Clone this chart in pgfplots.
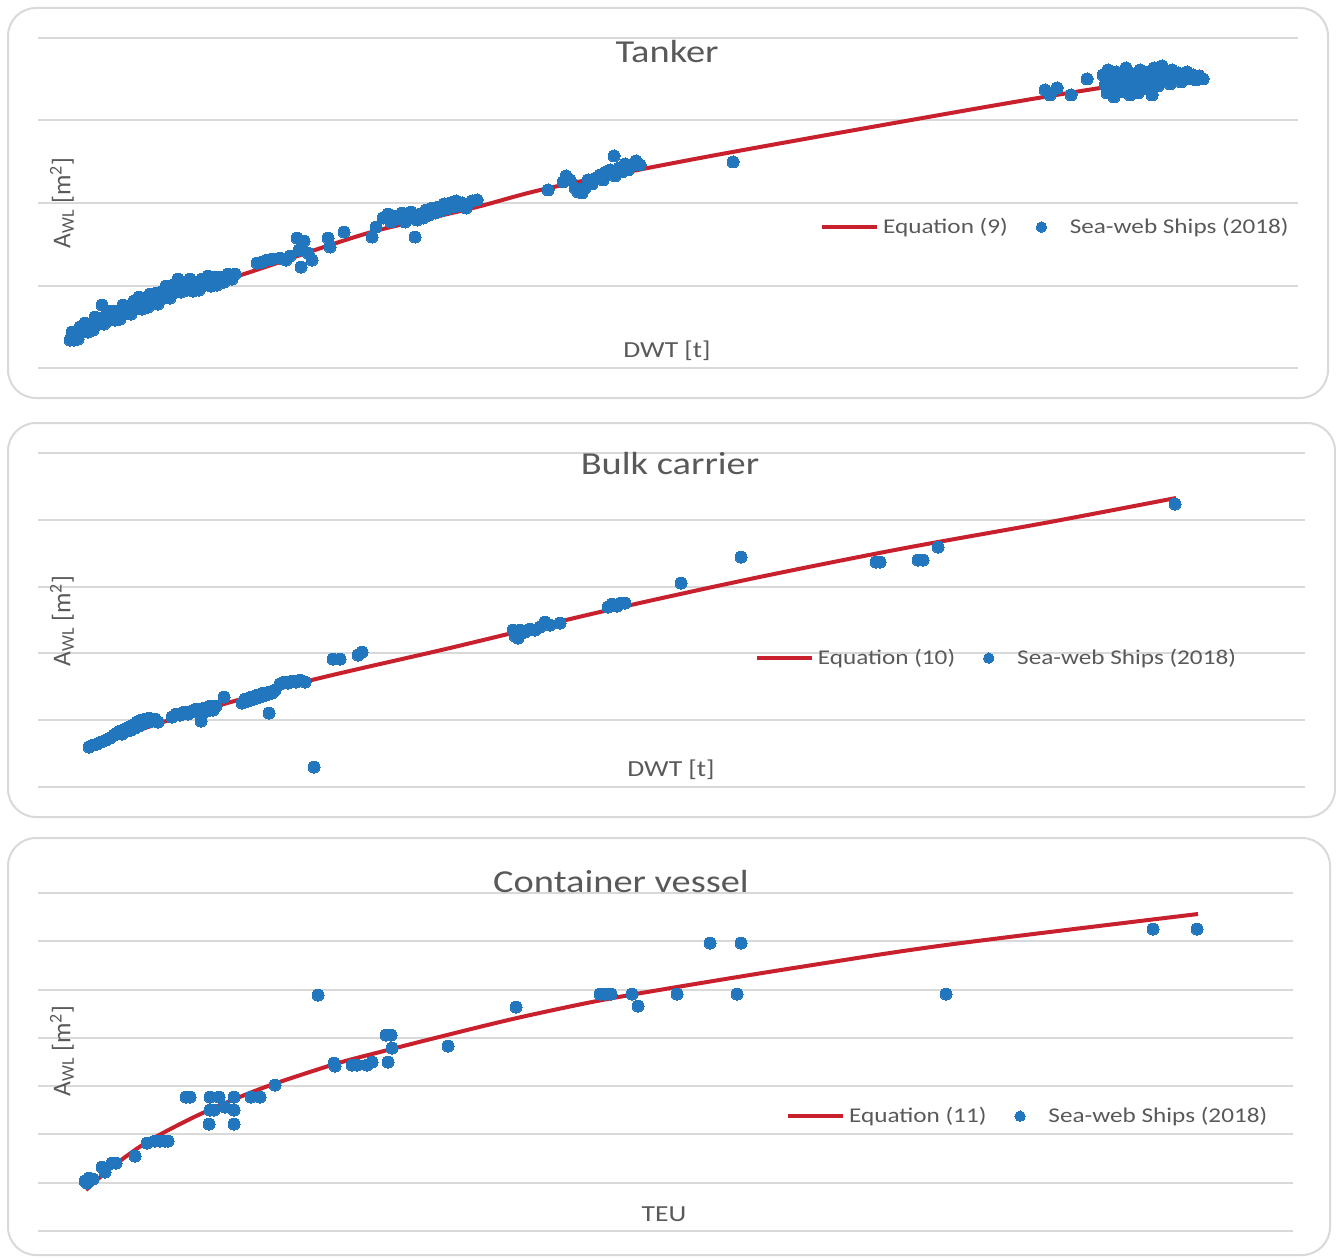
\documentclass[border=0pt]{standalone}
\usepackage{pgfplots}
\pgfplotsset{compat=1.18}
\usepackage{fontspec}
\setmainfont{Carlito}[FakeStretch=1.2]
\newfontfamily\ylfont{Carlito}
\definecolor{sblue}{RGB}{33,118,189}
\definecolor{sred}{RGB}{200,32,44}
\definecolor{txt}{RGB}{89,89,89}
\definecolor{gridc}{RGB}{217,217,217}
\pgfplotsset{
  panel/.style={scale only axis, axis line style={draw=none}, major tick length=0pt,
    xtick=\empty, yticklabels={}, ymajorgrids, grid style={gridc, line width=1pt},
    clip=false, anchor=south west, legend columns=2, legend cell align=left,
    legend style={draw=none, fill=none, inner sep=0pt, anchor=east,
      font=\fontsize{10.5}{12}\selectfont, text=txt,
      /tikz/every even column/.append style={column sep=12pt}}},
  eqline/.style={sred, line width=2pt, no marks, smooth,
    legend image code/.code={\draw[##1] (0pt,0pt) -- (27.5pt,0pt);}},
  ships/.style={only marks, mark=*, mark size=3pt,
    mark options={draw=sblue, fill=sblue, line width=0pt},
    legend image code/.code={\path[draw=none, fill=none] (0pt,-2pt) rectangle (15pt,2pt);
      \draw[##1,mark size=2.6pt] plot coordinates {(2.8pt,0pt)};}}
}
\begin{document}
\begin{tikzpicture}
% frames
\draw[gridc, line width=1pt, rounded corners=14pt] (4pt,-4pt) rectangle (664pt,-199pt);
\draw[gridc, line width=1pt, rounded corners=14pt] (4pt,-211.5pt) rectangle (667.5pt,-408.5pt);
\draw[gridc, line width=1pt, rounded corners=14pt] (4pt,-419pt) rectangle (665pt,-627.5pt);

% ---------------- Tanker
\begin{axis}[panel, at={(19pt,-184pt)}, width=630pt, height=165pt,
  xmin=38, xmax=1298, ymin=0, ymax=330, ytick={0,82.5,165,247.5,330},
  legend style={at={(0.996,0.427)}}]
\addplot[eqline] coordinates {(68,30) (100,46) (134,61) (179,79) (223,89) (241,93) (286,108) (321,120) (379,138) (473,160) (549,180) (700,210) (900,246) (1050,272) (1203,296)};
\addlegendentry{Equation (9)}
\addplot[ships] coordinates {
(70,28) (72,36) (74,28) (76,36) (78,29) (80,41) (83,36) (85,45) (88,36) (90,44) (93,38) (95,51) (98,44) (100,50) (102,63) (104,44) (107,54) (110,48) (112,57) (115,48) (118,57) (120,49) (123,63) (126,55) (128,62) (131,54) (134,67) (136,60) (139,71) (142,59) (145,68) (148,61) (150,74) (153,67) (156,75) (158,64) (161,76) (164,70) (166,82) (170,70) (173,83) (176,76) (178,89) (181,76) (184,85) (187,78) (190,89) (193,77) (196,86) (199,78) (202,89) (205,83) (208,92) (211,82) (214,91) (217,83) (220,91) (224,86) (228,94) (232,89) (235,94)
(257,105) (262,106) (267,108) (272,109) (280,110) (286,108) (290,112) (297,130) (299,118) (301,101) (304,127) (308,115) (312,108) (328,130) (330,121) (344,136)
(372,131) (376,141) (383,150) (388,154) (391,146) (395,152) (399,149) (402,155) (405,146) (408,151) (411,156) (415,131) (417,148) (420,154) (423,150) (426,158) (429,153) (432,160) (435,155) (438,161) (441,157) (444,164) (447,159) (450,165) (453,161) (456,167) (459,162) (462,165) (466,160) (472,167) (477,168)
(548,178) (563,186) (566,192) (570,188) (575,180) (578,176) (582,175) (585,180) (588,188) (592,184) (596,190) (600,193) (603,188) (606,196) (610,198) (614,212) (615,192) (619,200) (622,196) (625,204) (628,198) (631,202) (636,207) (640,203)
(733,206)
(1045,278) (1050,273) (1057,280) (1071,273) (1087,289)
(1103,293) (1105,283) (1107,275) (1108,298) (1110,288) (1112,278) (1114,271) (1116,296) (1118,284) (1120,276) (1122,291) (1124,280) (1126,300) (1128,286) (1130,273) (1132,294) (1134,281) (1136,289) (1138,275) (1140,298) (1142,284) (1144,292) (1146,279) (1148,296) (1150,287) (1152,273) (1154,300) (1156,290) (1158,282) (1160,295) (1162,302) (1165,288) (1168,294) (1170,284) (1172,298) (1175,290) (1178,295) (1181,286) (1184,292) (1187,296) (1190,289) (1193,293) (1196,288) (1199,292) (1203,289)
};
\addlegendentry{Sea-web Ships (2018)}
\end{axis}

% ---------------- Bulk carrier
\begin{axis}[panel, at={(19pt,-393.5pt)}, width=633.5pt, height=167pt,
  xmin=38, xmax=1305, ymin=0, ymax=334, ytick={0,66.8,133.6,200.4,267.2,334},
  legend style={at={(0.949,0.386)}}]
\addplot[eqline] coordinates {(88,37) (160,64) (300,104) (450,139) (600,175) (750,208) (900,238) (1050,265) (1176,289)};
\addlegendentry{Equation (10)}
\addplot[ships] coordinates {
(89,40) (93,42) (97,43) (101,45) (106,47) (110,49) (114,52) (117,54) (120,56) (122,53) (125,58) (127,56) (129,60) (131,57) (133,62) (135,59) (137,65) (139,61) (141,67) (143,63) (145,68) (147,65) (149,69) (152,66) (155,68) (158,65)
(172,70) (176,73) (180,72) (184,75) (188,73) (192,76) (196,78) (199,74) (201,66) (204,79) (207,76) (210,81) (213,77) (216,81) (224,90)
(242,84) (245,88) (248,86) (251,90) (254,88) (257,92) (260,90) (263,94) (266,92) (269,95) (269,74) (272,94) (275,97) (280,103) (284,105) (288,104) (292,106) (296,105) (300,107) (305,105)
(314,20) (333,128) (340,128) (358,132) (362,135)
(513,157) (515,151) (518,149) (520,157) (525,155) (530,158) (535,157) (540,160) (545,165) (550,162) (560,164)
(608,180) (612,183) (617,181) (621,184) (625,184)
(681,204) (741,230) (876,225) (880,225) (918,227) (923,227) (938,240) (1175,283)
};
\addlegendentry{Sea-web Ships (2018)}
\end{axis}

% ---------------- Container vessel
\begin{axis}[panel, at={(19pt,-615.5pt)}, width=627.5pt, height=169pt,
  xmin=38, xmax=1293, ymin=0, ymax=338, ytick={0,48.29,96.57,144.86,193.14,241.43,289.71,338},
  legend style={at={(0.983,0.340)}}]
\addplot[eqline] coordinates {(86,41) (112,64) (147,89) (188,111) (223,127) (268,145) (335,167) (380,179) (447,196) (517,213) (597,230) (677,244) (800,264) (946,286) (1198,317)};
\addlegendentry{Equation (11)}
\addplot[ships] coordinates {
(85,50) (87,48) (89,53) (93,52) (102,64) (105,59) (112,68) (116,68) (135,75) (147,88) (155,90) (160,90) (165,90) (168,90)
(186,134) (190,134) (210,134) (219,134) (234,134) (251,134) (260,134) (210,121) (214,121) (225,124) (234,121) (209,107) (234,107) (275,146)
(318,236) (334,168) (335,165) (352,166) (357,166) (367,166) (372,169) (386,196) (391,196) (388,169) (392,183) (448,185) (516,224)
(600,237) (605,237) (611,237) (632,237) (638,225) (677,237) (710,288) (737,237) (741,288) (946,237) (1153,302) (1197,302)
};
\addlegendentry{Sea-web Ships (2018)}
\end{axis}

% titles and labels
\begin{scope}[every node/.style={text=txt}]
\node[anchor=base, font=\fontsize{16}{19}\selectfont] at (333.5pt,-31.5pt) {Tanker};
\node[anchor=base, font=\fontsize{16}{19}\selectfont] at (335pt,-237pt) {Bulk carrier};
\node[anchor=base, font=\fontsize{16}{19}\selectfont] at (310.5pt,-446pt) {Container vessel};
\node[anchor=base, font=\fontsize{11.5}{13}\selectfont] at (333.5pt,-178.5pt) {DWT [t]};
\node[anchor=base, font=\fontsize{11.5}{13}\selectfont] at (335.5pt,-388pt) {DWT [t]};
\node[anchor=base, font=\fontsize{11.5}{13}\selectfont] at (332pt,-610.5pt) {TEU};
\node[rotate=90, font=\ylfont\fontsize{12.8}{14}\selectfont] at (31pt,-101.5pt) {A\textsubscript{WL} [m\textsuperscript{2}]};
\node[rotate=90, font=\ylfont\fontsize{12.8}{14}\selectfont] at (31pt,-310.5pt) {A\textsubscript{WL} [m\textsuperscript{2}]};
\node[rotate=90, font=\ylfont\fontsize{12.8}{14}\selectfont] at (31pt,-525.5pt) {A\textsubscript{WL} [m\textsuperscript{2}]};
\end{scope}
\pgfresetboundingbox
\path[use as bounding box] (0pt,0pt) rectangle (668pt,-628.5pt);
\end{tikzpicture}
\end{document}
